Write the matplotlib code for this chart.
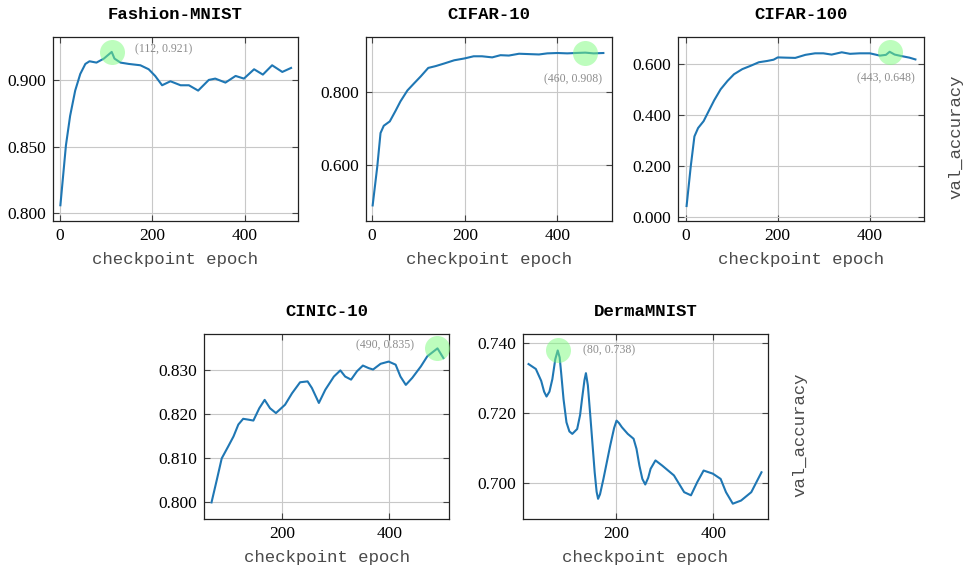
import numpy as np
import matplotlib
matplotlib.use("Agg")
import matplotlib.pyplot as plt

# --------------------------------------------------------------------------- #
#  Data                                               #
# --------------------------------------------------------------------------- #

fmnist_epoch = [1, 13, 22, 33, 44, 55, 64, 79, 95, 112, 118, 131, 149, 174, 192,
                206, 221, 239, 261, 279, 299, 322, 336, 358, 380, 398, 420, 439,
                459, 481, 500]
fmnist_acc = [0.806, 0.851, 0.873, 0.892, 0.9045, 0.912, 0.914, 0.913, 0.916,
              0.921, 0.916, 0.913, 0.912, 0.911, 0.908, 0.903, 0.896, 0.899,
              0.896, 0.896, 0.892, 0.900, 0.901, 0.898, 0.903, 0.901, 0.908,
              0.904, 0.911, 0.906, 0.909]

cifar10_epoch = [1, 11, 18, 25, 38, 50, 61, 76, 90, 105, 121, 137, 155, 177, 199,
                 219, 237, 259, 277, 295, 317, 338, 360, 378, 400, 421, 439, 460,
                 478, 499]
cifar10_acc = [0.488, 0.595, 0.687, 0.707, 0.719, 0.747, 0.774, 0.804, 0.823,
               0.843, 0.866, 0.871, 0.878, 0.887, 0.892, 0.898, 0.898, 0.895,
               0.901, 0.900, 0.905, 0.904, 0.903, 0.906, 0.907, 0.906, 0.907,
               0.908, 0.906, 0.907]

cifar100_epoch = [2, 11, 19, 27, 39, 51, 62, 76, 91, 105, 123, 141, 159, 177, 191,
                  200, 217, 238, 260, 281, 299, 317, 339, 357, 378, 400, 422, 435,
                  443, 454, 472, 486, 499]
cifar100_acc = [0.043, 0.198, 0.316, 0.349, 0.376, 0.419, 0.458, 0.501, 0.534,
                0.560, 0.580, 0.593, 0.607, 0.612, 0.617, 0.626, 0.625, 0.624,
                0.636, 0.642, 0.642, 0.637, 0.646, 0.640, 0.642, 0.642, 0.633,
                0.636, 0.648, 0.637, 0.630, 0.625, 0.618]

cinic_epoch = [69, 79, 88, 100, 110, 119, 128, 138, 147, 158, 168, 178, 189, 206,
               219, 234, 248, 256, 269, 281, 297, 309, 318, 329, 340, 351, 362,
               370, 384, 399, 412, 421, 431, 443, 459, 471, 490, 501]
cinic_acc = [0.8000, 0.8052, 0.8100, 0.8127, 0.8150, 0.8177, 0.8190, 0.8188,
             0.8186, 0.8214, 0.8233, 0.8214, 0.8203, 0.8222, 0.8248, 0.8273,
             0.8275, 0.8260, 0.8226, 0.8256, 0.8286, 0.8300, 0.8286, 0.8279,
             0.8298, 0.8311, 0.8305, 0.8302, 0.8315, 0.8320, 0.8313, 0.8286,
             0.8267, 0.8283, 0.8309, 0.8332, 0.8350, 0.8328]

derma_epoch = [20, 35, 46, 52, 57, 63, 69, 75, 80, 84, 87, 92, 98, 104, 110, 120,
               126, 130, 135, 138, 142, 147, 156, 160, 163, 167, 174, 188, 196,
               201, 206, 212, 224, 236, 242, 248, 254, 260, 266, 271, 281, 295,
               319, 340, 354, 367, 380, 399, 415, 426, 440, 457, 478, 499]
derma_acc = [0.7341, 0.7327, 0.7293, 0.7262, 0.7248, 0.7262, 0.7298, 0.7355,
             0.7380, 0.7360, 0.7317, 0.7240, 0.7174, 0.7148, 0.7141, 0.7155,
             0.7195, 0.7241, 0.7295, 0.7315, 0.7280, 0.7193, 0.7031, 0.6975,
             0.6955, 0.6968, 0.7012, 0.7108, 0.7158, 0.7179, 0.7172, 0.7160,
             0.7141, 0.7127, 0.7098, 0.7050, 0.7012, 0.6996, 0.7015, 0.7041,
             0.7065, 0.7050, 0.7022, 0.6974, 0.6965, 0.7003, 0.7036, 0.7027,
             0.7012, 0.6974, 0.6941, 0.6950, 0.6974, 0.7031]

titles = ["Fashion-MNIST", "CIFAR-10", "CIFAR-100", "CINIC-10", "DermaMNIST"]
best = [(112, 0.921), (460, 0.908), (443, 0.648), (490, 0.835), (80, 0.738)]

# --------------------------------------------------------------------------- #
#  Layout                                                                      #
# --------------------------------------------------------------------------- #

W, H = 969, 567
SERIF = "Liberation Serif"
MONO = "Liberation Mono"

def box(l, r, t, b):
    return [l / W, 1 - b / H, (r - l) / W, (b - t) / H]

panels = [
    dict(rect=box(53, 298, 37, 221), x=fmnist_epoch, y=fmnist_acc,
         xlim=(-15, 515), ylim=(0.7942, 0.9322), xt=[0, 200, 400],
         yt=[0.80, 0.85, 0.90], off=(23, 3), ha="left", ylab=False),
    dict(rect=box(365.7, 611.7, 37, 220.7), x=cifar10_epoch, y=cifar10_acc,
         xlim=(-14, 517), ylim=(0.446, 0.951), xt=[0, 200, 400],
         yt=[0.6, 0.8], off=(-12, -27), ha="center", ylab=False),
    dict(rect=box(678.3, 923.7, 37, 220.7), x=cifar100_epoch, y=cifar100_acc,
         xlim=(-16, 517), ylim=(-0.0145, 0.706), xt=[0, 200, 400],
         yt=[0.0, 0.2, 0.4, 0.6], off=(-4, -27), ha="center", ylab=True),
    dict(rect=box(204, 449.3, 334.3, 518.7), x=cinic_epoch, y=cinic_acc,
         xlim=(55, 512), ylim=(0.7963, 0.8382), xt=[200, 400],
         yt=[0.80, 0.81, 0.82, 0.83], off=(-23, 3), ha="right", ylab=False),
    dict(rect=box(522.7, 768.3, 333.7, 518.7), x=derma_epoch, y=derma_acc,
         xlim=(8, 513), ylim=(0.6898, 0.7428), xt=[200, 400],
         yt=[0.70, 0.72, 0.74], off=(25, 0), ha="left", ylab=True),
]

fig = plt.figure(figsize=(W / 100, H / 100), dpi=100)

for p, title, (bx, by) in zip(panels, titles, best):
    ax = fig.add_axes(p["rect"])
    ax.plot(p["x"], p["y"], color="#1f77b4", lw=1.5, zorder=3,
            solid_joinstyle="round")
    ax.plot([bx], [by], "o", ms=18, color="#7cfc7c", alpha=0.5,
            mec="none", zorder=4)
    ax.annotate(f"({bx}, {by:.3f})", (bx, by), textcoords="offset pixels",
                xytext=p["off"], ha=p["ha"], va="center", fontsize=8.5,
                family=SERIF, color="#8c8c8c", zorder=5)

    ax.set_xlim(*p["xlim"])
    ax.set_ylim(*p["ylim"])
    ax.set_xticks(p["xt"])
    ax.set_yticks(p["yt"])
    ax.set_yticklabels([f"{v:.3f}" for v in p["yt"]])
    ax.grid(True, color="#c8c8c8", lw=0.8)
    ax.set_axisbelow(True)
    ax.tick_params(direction="in", top=True, right=True, length=4,
                   width=0.8, color="#444444", labelsize=12.5, pad=5)
    for lab in ax.get_xticklabels() + ax.get_yticklabels():
        lab.set_family(SERIF)
    for s in ax.spines.values():
        s.set_color("#222222")
        s.set_linewidth(0.9)

    ax.set_title(title, family=MONO, fontweight="bold", fontsize=12.5, pad=13)
    ax.set_xlabel("checkpoint epoch", family=MONO, fontsize=12.5,
                  color="#4a4a4a", labelpad=6)
    if p["ylab"]:
        ax.text(1 + 32 / (p["rect"][2] * W), 0.455, "val_accuracy",
                transform=ax.transAxes, rotation=90, ha="center", va="center",
                family=MONO, fontsize=12.5, color="#4a4a4a")

fig.savefig("out.png", dpi=100)
